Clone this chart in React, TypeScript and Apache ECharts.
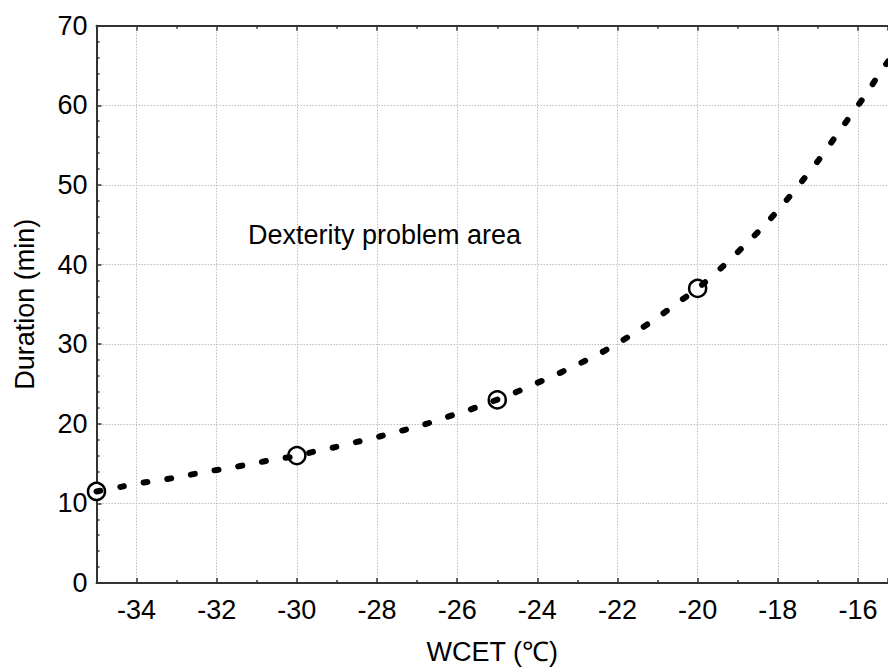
import React, { useEffect, useRef } from "react";
import * as echarts from "echarts";

// Fitted curve (WCET °C, duration min)
const curveX = [
  -35, -34.37, -33.84, -33.3, -32.76, -32.24, -31.68, -31.14, -30.62, -30.0,
  -29.53, -29.02, -28.47, -27.94, -27.41, -26.85, -26.32, -25.78, -25.29, -24.7,
  -24.18, -23.65, -23.1, -22.57, -22.03, -21.49, -20.96, -20.47, -20.0, -19.34,
  -18.81, -18.3, -17.83, -17.39, -16.97, -16.57, -16.2, -15.81, -15.45, -15.25,
];
const curveY = [
  11.5, 12.1, 12.6, 13.0, 13.5, 14.0, 14.45, 14.96, 15.46, 15.96,
  16.55, 17.09, 17.76, 18.4, 19.1, 19.86, 20.75, 21.6, 22.5, 23.6,
  24.76, 25.9, 27.2, 28.5, 30.0, 31.7, 33.5, 35.3, 37.0, 39.9,
  42.5, 45.1, 47.8, 50.5, 53.2, 56.0, 58.6, 61.3, 64.1, 65.5,
];

// Observed points
const pointX = [-35, -30, -25, -20];
const pointY = [11.5, 16, 23, 37];

const xMin = -35;
const xMax = -15.25;
const yMin = 0;
const yMax = 70;

const xName = "WCET (℃)";
const yName = "Duration (min)";
const note = "Dexterity problem area";

const FONT = "'Liberation Sans', Arial, Helvetica, sans-serif";

export default function App() {
  const ref = useRef<HTMLDivElement>(null);

  useEffect(() => {
    if (!ref.current) return;
    const chart = echarts.init(ref.current, undefined, { renderer: "svg" });

    const axisLine = { show: true, lineStyle: { color: "#333", width: 2 } };
    const splitLine = {
      show: true,
      lineStyle: { color: "#bdbdbd", type: [1.5, 1.5], width: 1 },
    };

    chart.setOption({
      animation: false,
      backgroundColor: "#fff",
      textStyle: { fontFamily: FONT },
      grid: {
        left: 96.5,
        top: 25.7,
        right: 0,
        bottom: 87,
        containLabel: false,
        outerBoundsMode: "none",
      },
      xAxis: [
        {
          type: "value",
          position: "bottom",
          min: xMin,
          max: xMax,
          splitNumber: 10,
          name: xName,
          nameLocation: "middle",
          nameGap: 55,
          nameTextStyle: { fontSize: 27, color: "#000", fontFamily: FONT },
          axisLine,
          axisTick: { show: true, inside: true, length: 5, lineStyle: { color: "#333", width: 1.5 } },
          minorTick: { show: true, splitNumber: 2, length: 3, lineStyle: { color: "#333", width: 1.5 } },
          axisLabel: {
            show: true,
            fontSize: 27,
            color: "#000",
            fontFamily: FONT,
            margin: 13,
            showMinLabel: false,
            showMaxLabel: false,
          },
          splitLine,
        },
        {
          type: "value",
          position: "top",
          min: xMin,
          max: xMax,
          splitNumber: 10,
          axisLine,
          axisTick: { show: true, inside: true, length: 5, lineStyle: { color: "#333", width: 1.5 } },
          minorTick: { show: true, splitNumber: 2, length: 3, lineStyle: { color: "#333", width: 1.5 } },
          axisLabel: { show: false },
          splitLine: { show: false },
        },
      ],
      yAxis: {
        type: "value",
        min: yMin,
        max: yMax,
        interval: 10,
        name: yName,
        nameLocation: "middle",
        nameGap: 58,
        nameTextStyle: { fontSize: 27, color: "#000", fontFamily: FONT },
        axisLine,
        axisTick: { show: true, inside: true, length: 5, lineStyle: { color: "#333", width: 1.5 } },
        minorTick: { show: true, splitNumber: 5, length: 3, lineStyle: { color: "#333", width: 1.5 } },
        axisLabel: { fontSize: 27, color: "#000", fontFamily: FONT, margin: 9 },
        splitLine,
      },
      graphic: [
        {
          type: "text",
          left: 248,
          top: 221,
          style: { text: note, fontSize: 27, fill: "#000", fontFamily: FONT },
          z: 10,
        },
      ],
      series: [
        {
          type: "scatter",
          xAxisIndex: 0,
          data: pointX.map((x, i) => [x, pointY[i]]),
          symbol: "circle",
          symbolSize: 17,
          itemStyle: { color: "#fff", borderColor: "#000", borderWidth: 2.5, opacity: 1 },
          z: 2,
          silent: true,
        },
        {
          type: "line",
          xAxisIndex: 0,
          data: curveX.map((x, i) => [x, curveY[i]]),
          showSymbol: false,
          symbol: "none",
          smooth: 0.3,
          lineStyle: { color: "#000", width: 6, type: [4, 20], cap: "round" },
          z: 3,
          silent: true,
        },
      ],
    });

    return () => chart.dispose();
  }, []);

  return (
    <div
      ref={ref}
      style={{ position: "absolute", left: 0, top: 0, width: 888, height: 670, background: "#fff" }}
    />
  );
}
